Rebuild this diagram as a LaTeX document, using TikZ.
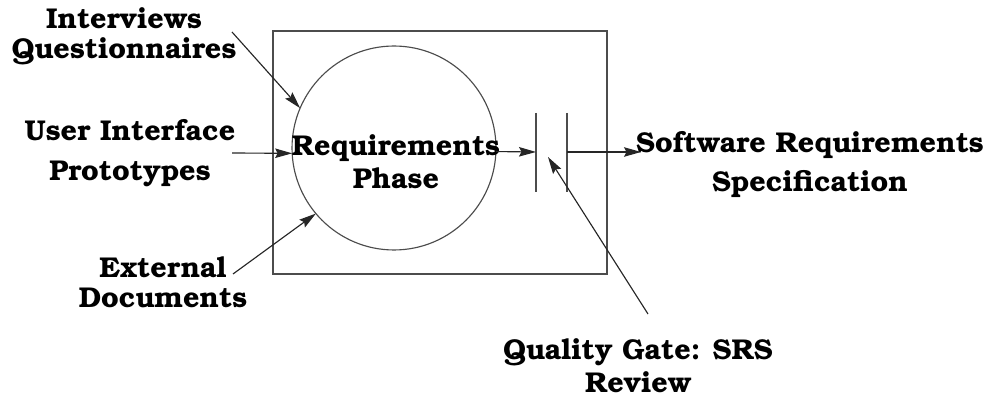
\documentclass[tikz,border=0pt]{standalone}
\usepackage[T1]{fontenc}
\usepackage{bookman}
\usetikzlibrary{arrows.meta,positioning}
\tikzset{
  every node/.style = {inner sep=0, outer sep=0},
  arrow/.style = {-{Stealth[length=0.34cm, width=0.19cm, inset=0.05cm]}, line width=0.65pt, draw=black!85},
  line/.style = {line width=0.65pt, draw=black!70},
  label/.style = {font=\fontsize{16.3}{17}\selectfont\bfseries, align=center}
}

\begin{document}
\begin{tikzpicture}[x=0.02cm, y=-0.02cm]
  \useasboundingbox (0,0) rectangle (986,398);
  % phase box
  \draw[line] (273,31) rectangle (607,274);
  \node[circle, line, draw, minimum size=4.08cm] (phase) at (394,148) {};
  \node[label] (rp) at (396,162) {Requirements\\[2pt]Phase};
  % quality gate
  \draw[line] (536,113) -- (536,192);
  \draw[line] (567,113) -- (567,192);
  \coordinate (g1) at (536,152);
  \coordinate (g2) at (567,152);
  % inputs
  \node[label] (intv) at (124,37) {Interviews\\Questionnaires};
  \node[label] (ui) at (130,153) {User Interface\\[6pt]Prototypes};
  \node[label] (ext) at (163,282) {External\\Documents};
  % outputs
  \node[label] (sw) at (810,164) {Software Requirements\\[5pt]Specification};
  \node[label] (qg) at (638,366) {Quality Gate: SRS\\[2pt]Review};
  \coordinate (intv-t) at (232,32);
  \coordinate (ui-t) at (232,153);
  \coordinate (ext-t) at (233,274);
  \coordinate (qg-t) at (648,314);
  \coordinate (sw-h) at (641,152);
  \draw[arrow] (intv-t) -- (phase.157);
  \draw[arrow] (ui-t) -- (phase.183);
  \draw[arrow] (ext-t) -- (phase.220);
  \draw[arrow] (phase.-2) -- (g1);
  \draw[arrow] (g2) -- (sw-h);
  \draw[arrow] (qg-t) -- (548,157);
\end{tikzpicture}
\end{document}
